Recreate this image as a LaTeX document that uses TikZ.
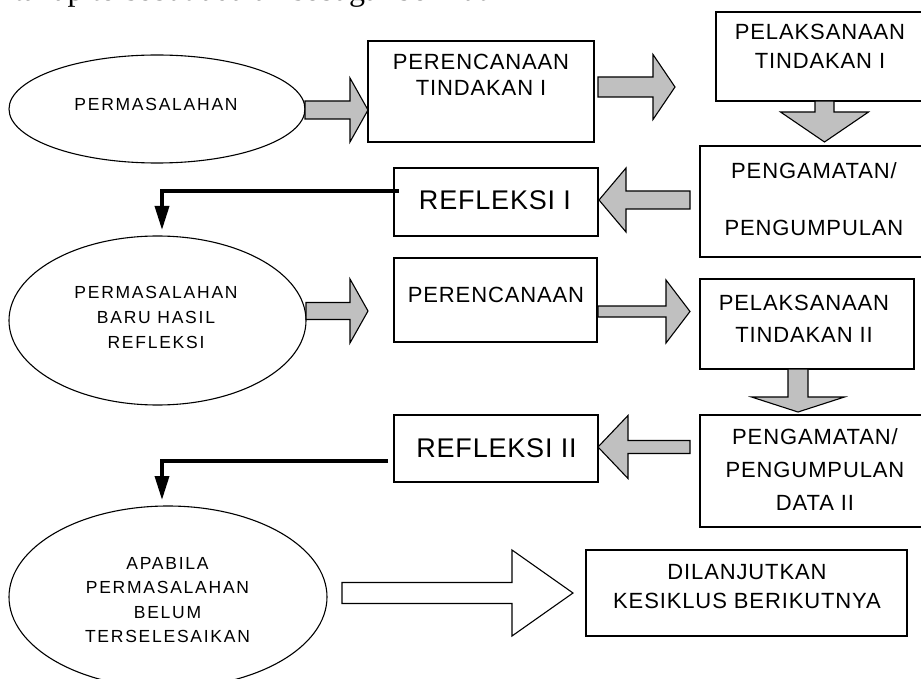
\documentclass[tikz,border=0pt]{standalone}
\usepackage{fontspec}
\setmainfont{Liberation Sans}
\newfontfamily\boxf[LetterSpace=4]{Liberation Sans}
\newfontfamily\ellf[LetterSpace=10]{Liberation Sans}
\newfontfamily\reff[LetterSpace=3]{Liberation Sans}
\newfontfamily\serf{Liberation Serif}
\usetikzlibrary{shapes.geometric,arrows.meta}
\definecolor{arrgray}{HTML}{C0C0C0}
\newcommand\barR[7]{%
  \draw[#7] (#1,#4-#5) -- (#2,#4-#5) -- (#2,#4-#6) -- (#3,#4) -- (#2,#4+#6) -- (#2,#4+#5) -- (#1,#4+#5) -- cycle;}
\newcommand\barD[7]{%
  \draw[#7] (#4-#5,#1) -- (#4-#5,#2) -- (#4-#6,#2) -- (#4,#3) -- (#4+#6,#2) -- (#4+#5,#2) -- (#4+#5,#1) -- cycle;}
\tikzset{
  bx/.style={draw, line width=1.1pt, inner sep=0pt, rectangle},
  el/.style={draw, line width=1.1pt, inner sep=0pt, ellipse},
  btxt/.style={align=center, inner sep=0pt, font=\boxf\fontsize{22}{26}\selectfont},
  etxt/.style={align=center, inner sep=0pt, font=\ellf\fontsize{17.5}{25}\selectfont},
  rtxt/.style={align=center, inner sep=0pt, font=\reff\fontsize{27}{30}\selectfont},
  garr/.style={draw=black, fill=arrgray, line width=1.1pt, line join=miter},
  warr/.style={draw=black, fill=white, line width=1.1pt, line join=miter},
  conn/.style={draw=black, line width=3.5pt, -{Triangle[length=24pt,width=14pt]}},
}
\begin{document}
\begin{tikzpicture}[x=1pt,y=-1pt]
\useasboundingbox (0,0) rectangle (921,679);
\clip (0,0) rectangle (921,679);
% cut-off text line at the very top
\node[anchor=base west, inner sep=0pt, font=\serf\fontsize{32}{36}\selectfont] (top) at (14,1) {tahap tersebut adalah sebagai berikut};
% ellipses
\node[el, minimum width=296, minimum height=108] (e1) at (157,109) {};
\node[el, minimum width=297, minimum height=169] (e2) at (157.5,320.5) {};
\node[el, minimum width=318, minimum height=182] (e3) at (168,597) {};
\node[etxt] (et1) at (156,104) {PERMASALAHAN};
\node[etxt] (et2) at (156,317) {PERMASALAHAN\\BARU HASIL\\REFLEKSI};
\node[etxt, font=\ellf\fontsize{17.5}{24.3}\selectfont] (et3) at (167.5,600) {APABILA\\PERMASALAHAN\\BELUM\\TERSELESAIKAN};
% boxes
\node[bx, minimum width=226, minimum height=101] (b1) at (481,91.5) {};
\node[bx, minimum width=208, minimum height=89] (b2) at (820,56.5) {};
\node[bx, minimum width=228, minimum height=111] (b3) at (814,201.5) {};
\node[bx, minimum width=204, minimum height=68] (b4) at (496,202) {};
\node[bx, minimum width=203, minimum height=84] (b5) at (495.5,300) {};
\node[bx, minimum width=214, minimum height=90] (b6) at (807,324) {};
\node[bx, minimum width=230, minimum height=112] (b7) at (815,471) {};
\node[bx, minimum width=204, minimum height=67] (b8) at (496,448.5) {};
\node[bx, minimum width=321, minimum height=86] (b9) at (746.5,593) {};
% box texts
\node[btxt] (t1) at (481,75) {PERENCANAAN\\TINDAKAN I};
\node[btxt, font=\boxf\fontsize{22}{29}\selectfont] (t2) at (820,46.5) {PELAKSANAAN\\TINDAKAN I};
\node[btxt, font=\boxf\fontsize{22}{57}\selectfont] (t3) at (814,199.5) {PENGAMATAN/\\PENGUMPULAN};
\node[rtxt] (t4) at (495,200) {REFLEKSI I};
\node[btxt] (t5) at (496,295) {PERENCANAAN};
\node[btxt, font=\boxf\fontsize{22}{31.5}\selectfont] (t6) at (804,319) {PELAKSANAAN\\TINDAKAN II};
\node[btxt, font=\boxf\fontsize{22}{33}\selectfont] (t7) at (815,470) {PENGAMATAN/\\PENGUMPULAN\\DATA II};
\node[rtxt] (t8) at (496.5,448) {REFLEKSI II};
\node[btxt, font=\boxf\fontsize{22}{29}\selectfont] (t9) at (747,586.5) {DILANJUTKAN\\KESIKLUS BERIKUTNYA};
% block arrows
\barR{305}{350}{368}{110}{9}{32}{garr}
\barR{598}{653}{675}{87}{10}{32.5}{garr}
\barD{101}{112}{142}{824.5}{9.5}{44}{garr}
\barR{690}{626}{599}{200}{9}{32}{garr}
\barR{306}{350}{368}{311}{8.5}{32}{garr}
\barR{598}{666}{690}{311.5}{5.5}{31.5}{garr}
\barD{369}{397}{412}{798}{10}{46.5}{garr}
\barR{690}{628}{598}{447}{6.5}{31.5}{garr}
\barR{342}{512}{573}{593}{10.5}{43}{warr}
% elbow connectors
\coordinate (c1s) at (399,191);
\coordinate (c1t) at (162,230);
\coordinate (c2s) at (388,461);
\coordinate (c2t) at (162,500);
\draw[conn] (c1s) -| (c1t);
\draw[conn] (c2s) -| (c2t);
\end{tikzpicture}
\end{document}
